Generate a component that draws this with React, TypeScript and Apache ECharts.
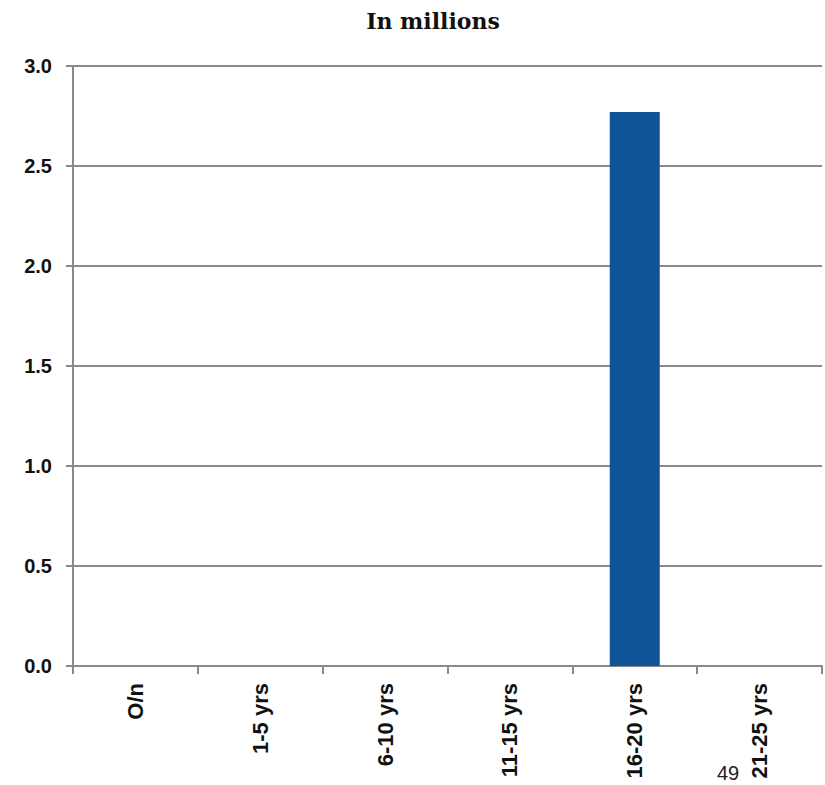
import React, { useEffect, useRef } from "react";
import * as echarts from "echarts";

const categories = ["O/n", "1-5 yrs", "6-10 yrs", "11-15 yrs", "16-20 yrs", "21-25 yrs"];
const values = [0, 0, 0, 0, 2.77, 0];
const titleText = "In millions";
const pageNumber = "49";

export default function App() {
  const ref = useRef<HTMLDivElement>(null);
  useEffect(() => {
    if (!ref.current) return;
    const chart = echarts.init(ref.current, undefined, { renderer: "svg" });
    chart.setOption({
      animation: false,
      backgroundColor: "#ffffff",
      title: {
        text: titleText,
        left: 428,
        top: 5,
        textAlign: "center",
        textStyle: {
          fontFamily: "DejaVu Serif",
          fontWeight: "bold",
          fontSize: 22,
          color: "#111111",
        },
      },
      grid: { left: 73, right: 3, top: 66, bottom: 119, containLabel: false },
      xAxis: {
        type: "category",
        data: categories,
        axisLine: { show: true, lineStyle: { color: "#8a8a8a", width: 2 } },
        axisTick: { show: true, length: 8, lineStyle: { color: "#8a8a8a", width: 2 } },
        axisLabel: {
          rotate: 90,
          margin: 17,
          color: "#111111",
          fontFamily: "Liberation Sans",
          fontWeight: "bold",
          fontSize: 22,
        },
      },
      yAxis: {
        type: "value",
        min: 0,
        max: 3,
        interval: 0.5,
        axisLine: { show: true, lineStyle: { color: "#8a8a8a", width: 2 } },
        axisTick: { show: true, length: 7, lineStyle: { color: "#8a8a8a", width: 2 } },
        splitLine: { show: true, lineStyle: { color: "#8a8a8a", width: 2 } },
        axisLabel: {
          margin: 21,
          color: "#111111",
          fontFamily: "Liberation Sans",
          fontWeight: "bold",
          fontSize: 20,
          formatter: (v: number) => v.toFixed(1),
        },
      },
      series: [
        {
          type: "bar",
          data: values,
          barWidth: 50,
          itemStyle: { color: "#0E5496" },
        },
      ],
      graphic: [
        {
          type: "text",
          left: 717,
          top: 763,
          style: {
            text: pageNumber,
            fontFamily: "Liberation Sans",
            fontSize: 20,
            fill: "#222222",
          },
        },
      ],
    });
    return () => chart.dispose();
  }, []);
  return (
    <div
      ref={ref}
      style={{ position: "fixed", left: 0, top: 0, width: 825, height: 785 }}
    />
  );
}
